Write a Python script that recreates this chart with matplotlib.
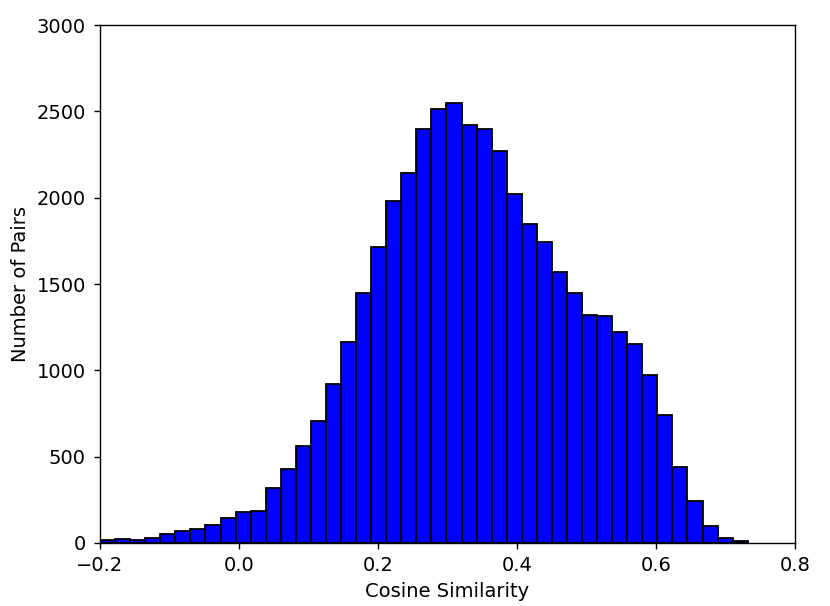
import numpy as np
import matplotlib
matplotlib.use('Agg')
import matplotlib.pyplot as plt

# bin range and counts (43 bins)
bin_start = -0.2
bin_stop = 0.732
counts = [16, 23, 20, 31, 51, 72, 80, 105, 142, 177, 184, 320, 428, 562, 708,
          923, 1164, 1448, 1712, 1981, 2145, 2399, 2516, 2549, 2419, 2399, 2270,
          2021, 1847, 1744, 1572, 1446, 1320, 1316, 1223, 1155, 975, 744, 440,
          241, 97, 26, 12]
x_ticks = [-0.2, 0.0, 0.2, 0.4, 0.6, 0.8]
y_ticks = [0, 500, 1000, 1500, 2000, 2500, 3000]

edges = np.linspace(bin_start, bin_stop, len(counts) + 1)
centers = (edges[:-1] + edges[1:]) / 2

plt.rcParams['font.size'] = 14
plt.rcParams['axes.linewidth'] = 1.0

fig = plt.figure(figsize=(8.3, 6.06), dpi=100)
ax = fig.add_axes([0.1205, 0.104, 0.8373, 0.8547])
ax.hist(centers, bins=edges, weights=counts, color='blue', edgecolor='black', linewidth=1.3)
ax.set_xlim(-0.2, 0.8)
ax.set_ylim(0, 3000)
ax.set_xticks(x_ticks)
ax.set_yticks(y_ticks)
ax.tick_params(length=4.1, width=1.0)
ax.tick_params(axis='y', pad=6)
ax.tick_params(axis='x', pad=5)
ax.set_xlabel('Cosine Similarity', labelpad=5)
ax.set_ylabel('Number of Pairs', labelpad=5)
fig.savefig('out.png', dpi=100)
